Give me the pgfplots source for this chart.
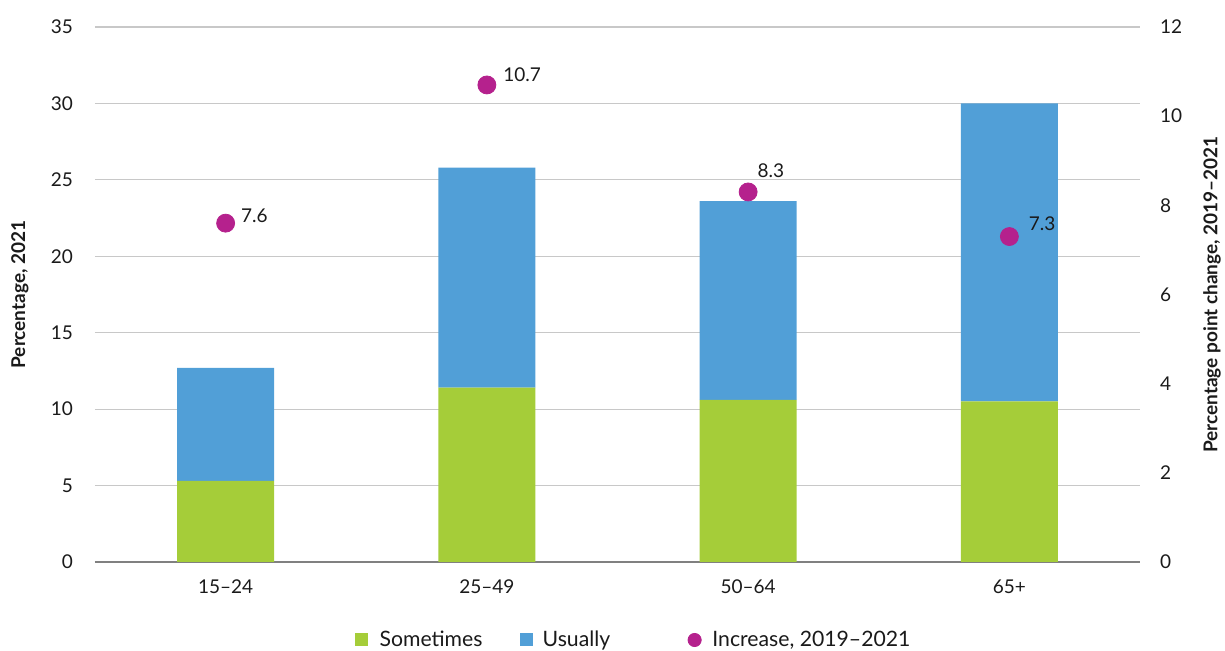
\documentclass[border=0pt]{standalone}
\usepackage{fontspec}
\setmainfont{Lato}
\usepackage{pgfplots}
\pgfplotsset{compat=1.18}
\definecolor{cgreen}{HTML}{A5CD39}
\definecolor{cblue}{HTML}{519FD7}
\definecolor{cmag}{HTML}{B5218D}
\definecolor{cgrid}{HTML}{C8C8C8}
\definecolor{caxis}{HTML}{808080}
\definecolor{ctext}{HTML}{1A1A1A}
\pgfplotstableread{
x y lab dx dy
0 7.6 7.6 7.5 3.5
1 10.7 10.7 8 5
2 8.3 8.3 4.5 10.5
3 7.3 7.3 9.5 6.5
}\inc
\begin{document}
\begin{tikzpicture}
\useasboundingbox (-47.5pt,-44.5pt) rectangle (565pt,281pt);
\begin{axis}[
  at={(0,0)}, anchor=south west, scale only axis,
  width=522.5pt, height=267.5pt,
  xmin=-0.5, xmax=3.5, ymin=0, ymax=35,
  ytick={0,5,...,35},
  xtick={0,1,2,3}, xticklabels={15--24,25--49,50--64,65+},
  ybar stacked, bar width=48.5pt,
  axis x line*=bottom, axis y line*=left,
  y axis line style={draw=none},
  x axis line style={caxis, line width=0.7pt},
  ymajorgrids, grid style={cgrid, line width=0.6pt},
  major tick length=0,
  /pgf/number format/assume math mode=true,
  tick label style={font=\fontsize{9.5}{11}\selectfont, text=ctext},
  yticklabel style={xshift=-7.5pt},
  xticklabel style={yshift=-5.5pt},
  ylabel={Percentage, 2021},
  ylabel style={font=\fontsize{9.5}{11}\selectfont\bfseries, text=ctext, at={(axis description cs:-0.0718,0.5)}, anchor=center},
  legend style={at={(0.5144,-0.1458)}, anchor=center, legend columns=3, draw=none, font=\fontsize{10.6}{12}\selectfont, text=ctext,
    /tikz/every even column/.append style={column sep=0pt},
    nodes={inner sep=0pt}, cells={anchor=west}},
]
\addplot[fill=cgreen, draw=none,
  legend image code/.code={\fill[cgreen] (0pt,-3.25pt) rectangle (6.5pt,3.25pt); \path (12.5pt,0);}]
  coordinates {(0,5.3) (1,11.4) (2,10.6) (3,10.5)};
\addlegendentry{\makebox[70pt][l]{Sometimes}}
\addplot[fill=cblue, draw=none,
  legend image code/.code={\fill[cblue] (0pt,-3.25pt) rectangle (6.5pt,3.25pt); \path (11.5pt,0);}]
  coordinates {(0,7.4) (1,14.4) (2,13.0) (3,19.5)};
\addlegendentry{\makebox[72.5pt][l]{Usually}}
\addlegendimage{legend image code/.code={\fill[cmag] (3.3pt,0) circle (3.3pt); \path (12pt,0);}}
\addlegendentry{Increase, 2019--2021}
\end{axis}
\begin{axis}[
  at={(0,0)}, anchor=south west, scale only axis,
  width=522.5pt, height=267.5pt,
  xmin=-0.5, xmax=3.5, ymin=0, ymax=12,
  ytick={0,2,...,12},
  axis y line*=right, axis x line=none,
  y axis line style={draw=none},
  major tick length=0,
  /pgf/number format/assume math mode=true,
  tick label style={font=\fontsize{9.5}{11}\selectfont, text=ctext},
  yticklabel style={xshift=6.5pt},
  ylabel={Percentage point change, 2019--2021},
  ylabel style={font=\fontsize{9.5}{11}\selectfont\bfseries, text=ctext, at={(axis description cs:1.0689,0.5)}, anchor=center, rotate=0},
]
\addplot[only marks, mark=*, mark size=4.5pt, color=cmag,
  nodes near coords, point meta=explicit symbolic,
  visualization depends on={\thisrow{dx} \as \dx},
  visualization depends on={\thisrow{dy} \as \dy},
  every node near coord/.style={anchor=west, inner sep=0pt, text=ctext, font=\fontsize{9.5}{11}\selectfont, xshift=\dx pt, yshift=\dy pt}]
  table[x=x, y=y, meta=lab] {\inc};
\end{axis}
\end{tikzpicture}
\end{document}
